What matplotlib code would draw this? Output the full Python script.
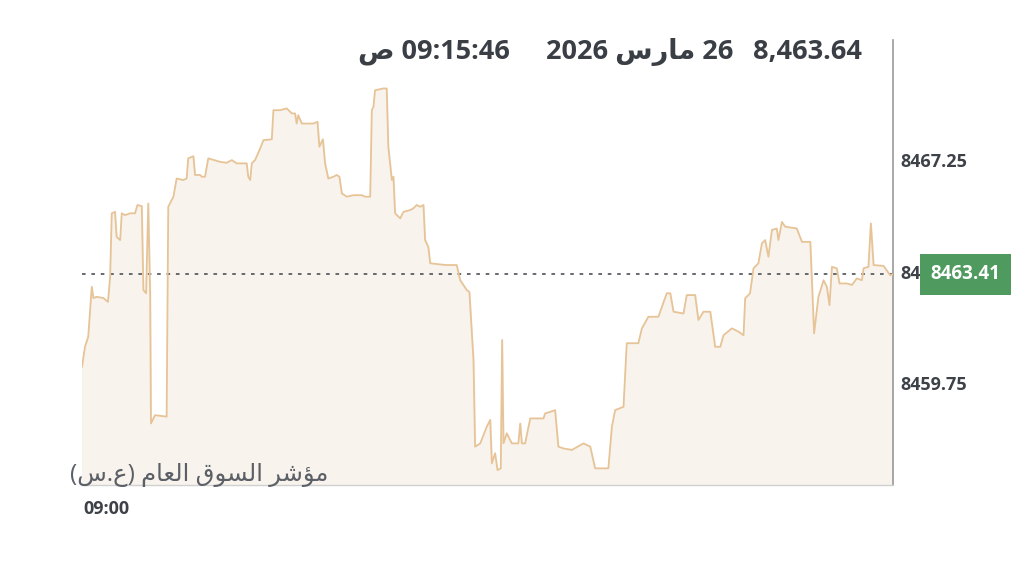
import matplotlib
matplotlib.use("Agg")
import matplotlib.pyplot as plt
import matplotlib.transforms as mtransforms

plt.rcParams['font.family'] = ['Open Sans', 'DejaVu Sans']

# minutes after 09:00
minutes = [0, 1.1, 2.3, 3.6, 4.2, 5.4, 7.9, 9.6, 10.4, 11.0, 12.2, 12.8, 14.1, 14.7, 15.9,
           17.8, 19.6, 20.5, 22.1, 22.7, 23.7, 24.5, 25.2, 25.5, 27.0, 31.3, 31.9, 33.8, 35.0,
           37.5, 38.7, 39.3, 41.2, 41.8, 43.7, 44.3, 45.5, 46.7, 51.1, 53.5, 55.4, 57.2, 60.9,
           61.5, 62.2, 62.8, 64.0, 65.9, 67.1, 70.2, 70.8, 73.3, 75.7, 77.6, 78.8, 79.4, 80.0,
           81.3, 85.6, 87.1, 87.8, 89.1, 89.9, 91.1, 93.0, 94.2, 95.2, 96.1, 97.9, 100.4, 103.5,
           104.7, 106.6, 107.2, 107.8, 108.4, 111.5, 112.7, 113.3, 114.6, 115.2, 115.8, 117.7,
           118.9, 121.4, 122.6, 123.8, 125.1, 126.3, 126.9, 128.1, 128.8, 132.5, 134.9, 138.6,
           139.9, 142.3, 143.3, 144.8, 145.4, 147.3, 149.7, 151.0, 151.6, 152.8, 153.7, 154.9,
           155.4, 155.9, 157.1, 159.0, 161.4, 162.1, 162.7, 163.9, 165.8, 170.7, 171.3, 173.2,
           175.0, 176.2, 178.1, 181.2, 185.5, 188.0, 189.8, 194.7, 196.0, 197.2, 200.3, 201.5,
           205.8, 207.1, 209.5, 213.2, 216.3, 217.6, 218.8, 222.5, 223.7, 226.8, 228.0, 229.9,
           232.4, 234.2, 236.1, 237.3, 240.4, 242.8, 244.7, 245.3, 247.1, 248.4, 250.2, 251.5,
           252.7, 253.9, 255.2, 257.0, 257.6, 258.9, 260.1, 264.4, 266.3, 269.4, 270.0, 270.8,
           272.4, 274.3, 275.5, 276.5, 277.4, 279.2, 280.2, 282.9, 284.8, 286.6, 288.5, 289.1,
           290.9, 291.8, 292.8, 296.5, 298.9, 300]
index = [8460.30, 8460.97, 8461.31, 8462.99, 8462.61, 8462.65, 8462.61, 8462.48, 8463.33,
         8465.46, 8465.51, 8464.67, 8464.56, 8465.46, 8465.40, 8465.46, 8465.46, 8465.74,
         8465.70, 8462.88, 8462.77, 8465.79, 8462.77, 8458.39, 8458.67, 8458.62, 8465.68,
         8466.02, 8466.63, 8466.58, 8466.63, 8467.31, 8467.38, 8466.75, 8466.75, 8466.69,
         8466.69, 8467.31, 8467.19, 8467.16, 8467.25, 8467.14, 8467.14, 8466.69, 8466.58,
         8467.14, 8467.25, 8467.64, 8467.92, 8467.95, 8468.93, 8468.93, 8468.99, 8468.82,
         8468.82, 8468.48, 8468.76, 8468.48, 8468.48, 8468.54, 8467.70, 8467.95, 8467.14,
         8466.63, 8466.69, 8466.75, 8466.69, 8466.13, 8466.02, 8466.07, 8466.07, 8466.02,
         8466.02, 8468.93, 8469.04, 8469.60, 8469.66, 8469.66, 8467.70, 8466.58, 8466.69,
         8465.46, 8465.29, 8465.51, 8465.57, 8465.63, 8465.74, 8465.68, 8465.74, 8464.56,
         8464.33, 8463.78, 8463.74, 8463.72, 8463.72, 8463.21, 8462.88, 8462.81, 8460.52,
         8457.61, 8457.72, 8458.28, 8458.51, 8457.05, 8457.39, 8456.82, 8456.88, 8461.20,
         8457.72, 8458.06, 8457.72, 8457.72, 8458.39, 8457.72, 8457.72, 8458.56, 8458.56,
         8458.73, 8458.78, 8458.84, 8457.61, 8457.55, 8457.50, 8457.72, 8457.61, 8456.88,
         8456.88, 8458.28, 8458.84, 8458.95, 8461.09, 8461.09, 8461.59, 8461.98, 8461.98,
         8462.77, 8462.77, 8462.15, 8462.09, 8462.71, 8462.71, 8461.87, 8462.15, 8462.15,
         8460.97, 8460.97, 8461.36, 8461.59, 8461.48, 8461.36, 8462.60, 8462.77, 8463.61,
         8463.78, 8464.45, 8464.56, 8464.00, 8464.90, 8464.95, 8464.56, 8465.17, 8465.01,
         8464.95, 8464.50, 8464.50, 8463.21, 8461.42, 8462.65, 8463.21, 8462.99, 8462.37,
         8463.66, 8463.61, 8463.10, 8463.10, 8463.05, 8463.27, 8463.21, 8463.61, 8463.66,
         8465.12, 8463.72, 8463.69, 8463.38, 8463.41]

prev_close = 8463.41
y_ticks = [8459.75, 8463.50, 8467.25]
y_min, y_max = 8456.32, 8471.29

fig = plt.figure(figsize=(10.24, 5.62), dpi=100)
ax = fig.add_axes([0.0801, 0.137, 0.792, 0.7918])

ax.fill_between(minutes, index, y_min, color='#f9f3ed', zorder=1)
ax.plot(minutes, index, color='#e6c497', lw=1.3, zorder=3)
ax.axhline(prev_close, color='#5a5e66', lw=1.3, ls=(0, (2, 3.2)), zorder=2)

ax.set_xlim(0, 300)
ax.set_ylim(y_min, y_max)
ax.set_xticks([])
ax.yaxis.tick_right()
ax.set_yticks(y_ticks)
ax.set_yticklabels(['%.2f' % v for v in y_ticks])
ax.tick_params(axis='y', length=0, pad=5, labelsize=13, labelcolor='#3d4148')
for lbl in ax.get_yticklabels():
    lbl.set_fontweight('bold')

for side in ['top', 'left']:
    ax.spines[side].set_visible(False)
ax.spines['right'].set_color('#9a9a9a')
ax.spines['right'].set_linewidth(1.2)
ax.spines['bottom'].set_color('#d0d0d0')
ax.spines['bottom'].set_linewidth(1)

# current value box, sits over the middle tick label like the original
trans = mtransforms.blended_transform_factory(ax.transAxes, ax.transData)
ax.text(1.046, prev_close, '8463.41', transform=trans, ha='left', va='center',
        color='white', fontsize=13.5, fontweight='bold', zorder=10,
        bbox=dict(boxstyle='square,pad=0.55', fc='#4f9a5f', ec='none'))

# header
hdr = dict(ha='right', va='center', fontsize=19.5, fontweight='bold', color='#3a3e45')
fig.text(862 / 1024, 1 - 52 / 562, '8,463.64', **hdr)
fig.text(733 / 1024, 1 - 52 / 562, '2026 ﺱﺭﺎﻣ 26', **hdr)
fig.text(510 / 1024, 1 - 52 / 562, 'ﺹ 09:15:46', **hdr)

# index name and start time
fig.text(70 / 1024, 1 - 475 / 562, '(ﺱ.ﻉ) ﻡﺎﻌﻟﺍ ﻕﻮﺴﻟﺍ ﺮﺷﺆﻣ', ha='left', va='center',
         fontsize=17.5, color='#5b5f66')
fig.text(83 / 1024, 1 - 509 / 562, '09:00', ha='left', va='center',
         fontsize=13, fontweight='bold', color='#3d4148')

fig.savefig('out.png', dpi=100, facecolor='white')
